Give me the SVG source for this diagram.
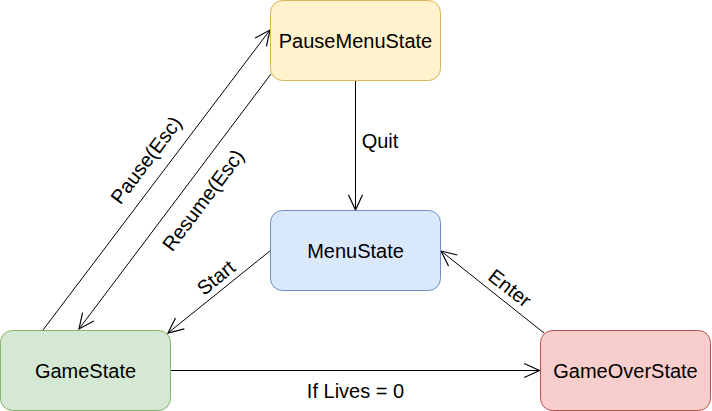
<svg xmlns="http://www.w3.org/2000/svg" width="712" height="411" viewBox="0 0 712 411">
<style>
.t{font-family:"Liberation Sans",Arial,sans-serif;font-size:20px;fill:#000;text-anchor:middle}
.e{stroke:#000;stroke-width:1;fill:none;marker-end:url(#a)}
</style>
<defs>
<marker id="a" markerUnits="userSpaceOnUse" markerWidth="20" markerHeight="20" viewBox="-15 -8 17 16" refX="0" refY="0" orient="auto">
<path d="M-13,-6 L0,0 L-13,6" fill="none" stroke="#000" stroke-width="1"/>
</marker>
</defs>
<rect width="712" height="411" fill="#fff"/>
<g id="connectors">
<line class="e" x1="43" y1="330" x2="270" y2="30"/>
<line class="e" x1="271" y1="74" x2="79" y2="329"/>
<line class="e" x1="355.5" y1="80.5" x2="355.5" y2="210"/>
<line class="e" x1="270.5" y1="250.5" x2="168" y2="333"/>
<line class="e" x1="544" y1="333" x2="441" y2="251"/>
<line class="e" x1="170.5" y1="370.5" x2="539.5" y2="370.5"/>
<text class="t" transform="translate(146,160) rotate(-52.9)" y="7">Pause(Esc)</text>
<text class="t" transform="translate(203,200) rotate(-53)" y="7">Resume(Esc)</text>
<text class="t" x="380" y="148">Quit</text>
<text class="t" transform="translate(216,277.5) rotate(-39)" y="7">Start</text>
<text class="t" transform="translate(510,288) rotate(38)" y="7">Enter</text>
<text class="t" x="355.5" y="397.5">If Lives = 0</text>
</g>
<g id="PauseMenuState">
<rect x="270.5" y="0.5" width="170" height="80" rx="12" fill="#fff2cc" stroke="#d6b656"/>
<text class="t" x="355.5" y="48">PauseMenuState</text>
</g>
<g id="MenuState">
<rect x="270.5" y="210.5" width="170" height="80" rx="12" fill="#dae8fc" stroke="#6c8ebf"/>
<text class="t" x="355.5" y="258">MenuState</text>
</g>
<g id="GameState">
<rect x="0.5" y="330.5" width="170" height="80" rx="12" fill="#d5e8d4" stroke="#82b366"/>
<text class="t" x="85.5" y="378">GameState</text>
</g>
<g id="GameOverState">
<rect x="540.5" y="330.5" width="170" height="80" rx="12" fill="#f8cecc" stroke="#b85450"/>
<text class="t" x="625.5" y="378">GameOverState</text>
</g>
</svg>
